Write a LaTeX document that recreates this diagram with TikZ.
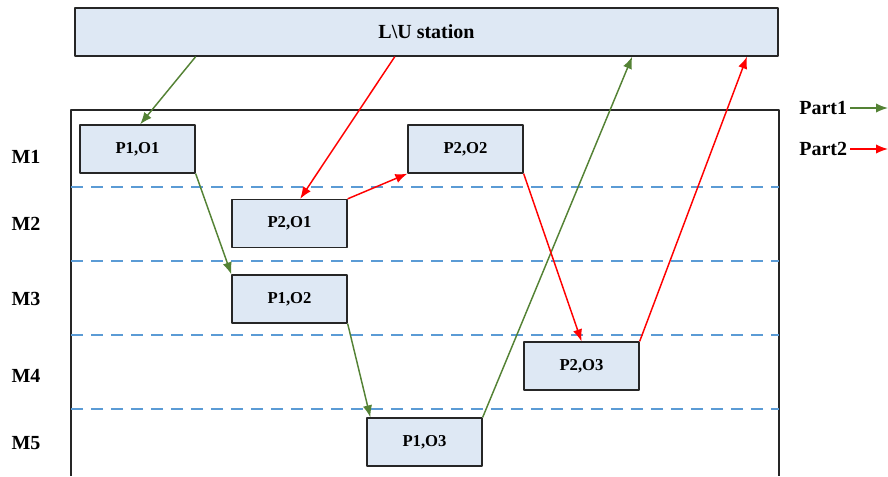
\documentclass[tikz,border=0pt]{standalone}
\usepackage{fontspec}
\setmainfont{Liberation Serif}
\usetikzlibrary{arrows.meta,calc}
\definecolor{boxblue}{RGB}{222,232,244}
\definecolor{sepblue}{RGB}{91,155,213}
\definecolor{partgreen}{RGB}{84,130,53}
\definecolor{partred}{RGB}{255,0,0}
\begin{document}
\begin{tikzpicture}[x=0.75pt, y=-0.75pt, line join=round, >={Latex[length=9pt,width=7pt]},
	opbox/.style={draw=black!85, fill=boxblue, line width=1pt, minimum width=86.25pt, minimum height=36pt, inner sep=0pt, font=\bfseries\fontsize{12.5}{14}\selectfont},
	biglabel/.style={inner sep=2pt, font=\bfseries\fontsize{15}{18}\selectfont},
	partone/.style={->, draw=partgreen, line width=1.1pt},
	parttwo/.style={->, draw=partred, line width=1.1pt},
	machinesep/.style={draw=sepblue, line width=1.1pt, dash pattern=on 9pt off 6pt}]
				\useasboundingbox (0,0) rectangle (888,476) ;
				% frame and machine rows
				\draw[line width=1pt, black!85] (71,476) -- (71,110) -- (779,110) -- (779,476) ;
				\foreach \y in {187,261,335,409} \draw[machinesep] (71,\y) -- (779,\y) ;
				\foreach \m/\y in {1/157,2/224,3/299,4/376,5/443} \node[biglabel] (m\m) at (26,\y) {M\m} ;
				% station and operations
				\node[opbox, minimum width=527.25pt, font=\bfseries\fontsize{15}{18}\selectfont] (station) at (426.5,32) {L\textbackslash U station} ;
				\node[opbox] (o11) at (137.5,149) {P1,O1} ;
				\node[opbox] (o21) at (289.5,223.5) {P2,O1} ;
				\node[opbox] (o22) at (465.5,149) {P2,O2} ;
				\node[opbox] (o12) at (289.5,299) {P1,O2} ;
				\node[opbox] (o23) at (581.5,366) {P2,O3} ;
				\node[opbox] (o13) at (424.5,442) {P1,O3} ;
				% part 1 route
				\draw[partone] (station.south -| o11.north east) -- ([xshift=2pt]o11.north) ;
				\draw[partone] (o11.south east) -- (o12.north west) ;
				\draw[partone] (o12.south east) -- ([xshift=3pt]o13.north west) ;
				\draw[partone] (o13.north east) -- ($(station.south west)!0.792!(station.south east)$) ;
				% part 2 route
				\draw[parttwo] ($(station.south west)!0.455!(station.south east)$) -- ([xshift=8pt]o21.north) ;
				\draw[parttwo] (o21.north east) -- (o22.south west) ;
				\draw[parttwo] (o22.south east) -- (o23.north) ;
				\draw[parttwo] (o23.north east) -- ($(station.south west)!0.955!(station.south east)$) ;
				% legend
				\node[biglabel, anchor=east] (part1) at (850,108) {Part1} ;
				\node[biglabel, anchor=east] (part2) at (850,149) {Part2} ;
				\coordinate (part1end) at (888,108) ;
				\coordinate (part2end) at (888,149) ;
				\draw[partone] (part1) -- (part1end) ;
				\draw[parttwo] (part2) -- (part2end) ;
			\end{tikzpicture}
\end{document}
